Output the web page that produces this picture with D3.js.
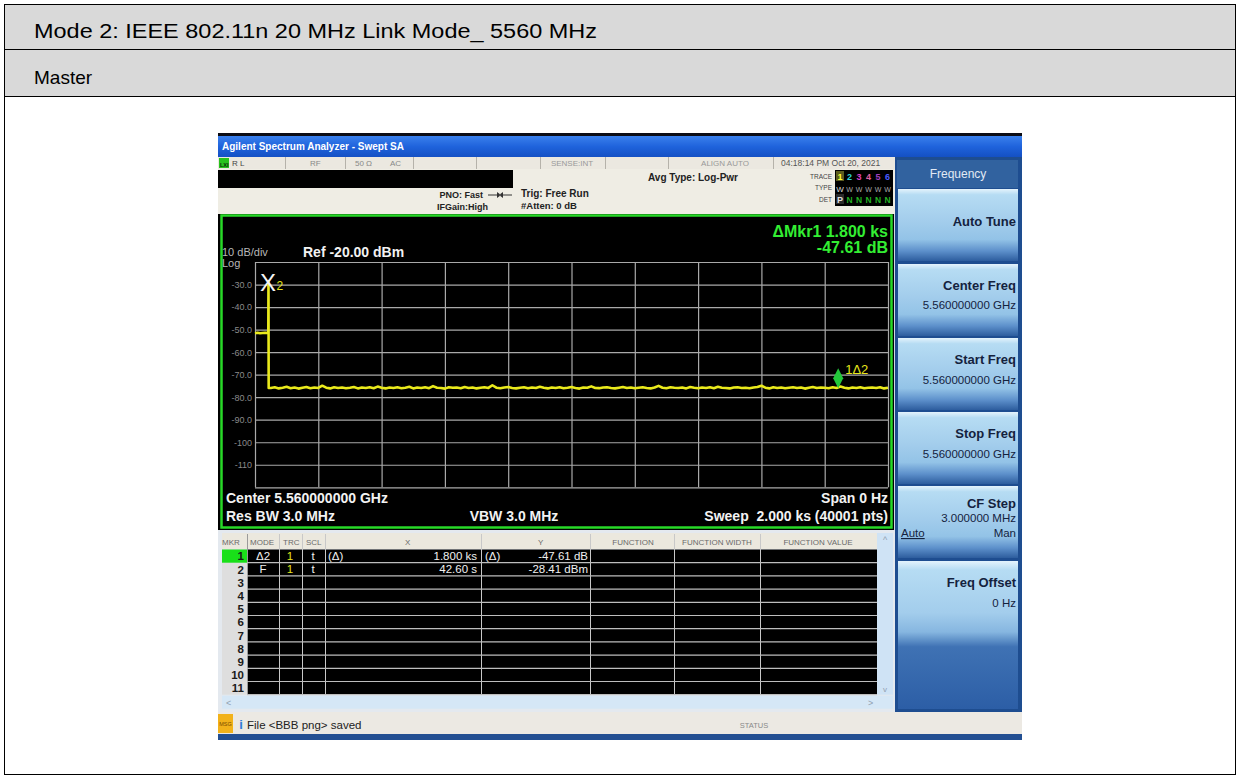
<!DOCTYPE html>
<html>
<head>
<meta charset="utf-8">
<script src="https://cdn.jsdelivr.net/npm/d3@7"></script>
<style>
  body { margin: 0; background: #fff; }
  svg { display: block; }
  text { font-family: "Liberation Sans", Arial, sans-serif; }
</style>
</head>
<body>
<svg id="page" width="1240" height="777"></svg>
<script>
// ---- sweep settings ----
const sweepSeconds = 2000;
const refLevel = -20;
const dbPerDiv = 10;
const yTickValues = [-30, -40, -50, -60, -70, -80, -90, -100, -110];
const yTickLabels = ["-30.0", "-40.0", "-50.0", "-60.0", "-70.0", "-80.0", "-90.0", "-100", "-110"];

// ---- trace 1: level before and through the burst (s, dBm) ----
const burstTime  = [0, 8, 16, 24, 32, 41.6, 42.0, 42.6, 43.2];
const burstLevel = [-51.6, -51.4, -51.6, -51.5, -51.4, -51.5, -51.5, -28.41, -75.9];

// ---- trace 1: noise floor after the burst, one reading every 12.5 s from 50 s ----
const floorStart = 50;
const floorStep = 12.5;
const floorLevel = [
  -75.9, -75.6, -76.1, -75.8, -75.4, -76.0, -75.7, -76.2, -75.8, -75.5,
  -76.0, -75.7, -75.9, -74.9, -75.8, -76.1, -75.6, -75.9, -75.7, -76.0,
  -75.8, -75.5, -76.1, -75.7, -75.9, -75.6, -76.0, -75.3, -75.8, -76.1,
  -75.7, -75.9, -75.6, -76.0, -75.8, -75.4, -76.1, -75.7, -75.9, -75.6,
  -76.0, -75.1, -75.8, -75.9, -76.2, -75.6, -75.8, -75.7, -76.0, -75.5,
  -75.9, -75.7, -76.1, -75.8, -75.6, -75.9, -74.7, -75.8, -76.0, -75.7,
  -75.5, -75.9, -76.1, -75.8, -75.6, -76.0, -75.7, -75.9, -75.4, -75.8,
  -76.1, -75.7, -75.9, -75.6, -76.0, -75.8, -75.5, -75.9, -76.2, -75.7,
  -75.8, -75.2, -75.9, -76.0, -75.7, -75.6, -75.9, -76.1, -75.8, -75.5,
  -75.9, -75.7, -76.0, -75.8, -75.6, -75.9, -76.1, -75.7, -75.0, -75.8,
  -76.0, -75.6, -75.8, -75.9, -75.7, -76.1, -75.5, -75.8, -76.0, -75.7,
  -75.9, -75.6, -76.0, -75.4, -75.8, -75.9, -76.1, -75.7, -75.6, -75.9,
  -75.8, -76.0, -75.7, -75.5, -74.9, -75.8, -76.1, -75.6, -75.9, -75.7,
  -76.0, -75.8, -75.6, -75.9, -75.7, -76.2, -75.8, -75.5, -75.9, -75.7,
  -75.8, -76.0, -75.6, -75.9, -75.3, -75.8, -76.1, -75.7, -75.9, -75.6,
  -76.0, -75.8, -75.7, -75.9, -75.6, -76.1, -75.8
];

// ---- markers ----
const refMarkerTime = 42.60;    // marker 2 (fixed)
const refMarkerLevel = -28.41;  // dBm
const deltaTime = 1800;         // marker 1 relative to 2, s
const deltaLevel = -47.61;      // dB

// ---- marker table ----
const mkrNumbers = ["1", "2", "3", "4", "5", "6", "7", "8", "9", "10", "11"];
const mkrMode  = ["Δ2", "F"];
const mkrTrace = ["1", "1"];
const mkrScale = ["t", "t"];
const mkrXRef  = ["(Δ)", ""];
const mkrX     = ["1.800 ks", "42.60 s"];
const mkrYRef  = ["(Δ)", ""];
const mkrY     = ["-47.61 dB", "-28.41 dBm"];
const tableHeads = ["MKR", "MODE", "TRC", "SCL", "X", "Y", "FUNCTION", "FUNCTION WIDTH", "FUNCTION VALUE"];

// ---- softkey menu ----
const menuTitle = "Frequency";
const keyLabels = ["Auto Tune", "Center Freq", "Start Freq", "Stop Freq", "CF Step", "Freq Offset"];
const keyValues = ["", "5.560000000 GHz", "5.560000000 GHz", "5.560000000 GHz", "3.000000 MHz", "0 Hz"];

const svg = d3.select("#page");
const FONT = '"Liberation Sans", Arial, sans-serif';

function txt(g, x, y, s, opt = {}) {
  const t = g.append("text").attr("x", x).attr("y", y).text(s)
    .attr("font-size", opt.size || 11)
    .attr("fill", opt.fill || "#000")
    .attr("font-weight", opt.bold ? "bold" : "normal")
    .attr("text-anchor", opt.anchor || "start");
  if (opt.underline) t.attr("text-decoration", "underline");
  return t;
}

// ================= page table =================
svg.append("rect").attr("x", 5).attr("y", 5).attr("width", 1230).attr("height", 44).attr("fill", "#d9d9d9");
svg.append("rect").attr("x", 5).attr("y", 50).attr("width", 1230).attr("height", 46).attr("fill", "#d9d9d9");
svg.append("rect").attr("x", 4.5).attr("y", 4.5).attr("width", 1231).attr("height", 770)
  .attr("fill", "none").attr("stroke", "#000").attr("stroke-width", 1);
svg.append("line").attr("x1", 4.5).attr("x2", 1235.5).attr("y1", 49.5).attr("y2", 49.5).attr("stroke", "#000");
svg.append("line").attr("x1", 4.5).attr("x2", 1235.5).attr("y1", 96.5).attr("y2", 96.5).attr("stroke", "#000");
txt(svg, 34, 38, "Mode 2: IEEE 802.11n 20 MHz Link Mode_ 5560 MHz", { size: 20 })
  .attr("textLength", 563).attr("lengthAdjust", "spacingAndGlyphs");
txt(svg, 34, 84, "Master", { size: 19 });

// ================= analyzer screen =================
const scr = svg.append("g");
const defs = svg.append("defs");

const tb = defs.append("linearGradient").attr("id", "titleGrad").attr("x1", 0).attr("y1", 0).attr("x2", 0).attr("y2", 1);
tb.append("stop").attr("offset", 0).attr("stop-color", "#3a80ec");
tb.append("stop").attr("offset", 0.5).attr("stop-color", "#1f63dc");
tb.append("stop").attr("offset", 1).attr("stop-color", "#1450c4");

const kg = defs.append("linearGradient").attr("id", "keyGrad").attr("x1", 0).attr("y1", 0).attr("x2", 0).attr("y2", 1);
[[0, "#e4f3fc"], [0.08, "#b6dcf3"], [0.45, "#a3cdec"], [0.7, "#93c3e7"], [0.86, "#5d90cb"], [1, "#2d5d9e"]]
  .forEach(([o, c]) => kg.append("stop").attr("offset", o).attr("stop-color", c));

const lk = defs.append("linearGradient").attr("id", "lastKeyGrad").attr("x1", 0).attr("y1", 0).attr("x2", 0).attr("y2", 1);
[[0, "#e4f3fc"], [0.06, "#b6dcf3"], [0.35, "#a3cdec"], [0.48, "#86b6e0"], [0.58, "#3f72b4"], [1, "#2c5ea6"]]
  .forEach(([o, c]) => lk.append("stop").attr("offset", o).attr("stop-color", c));

scr.append("rect").attr("x", 218).attr("y", 133).attr("width", 804).attr("height", 607).attr("fill", "#cfd8e2");
scr.append("rect").attr("x", 218).attr("y", 133).attr("width", 804).attr("height", 3).attr("fill", "#0c0c14");
scr.append("rect").attr("x", 218).attr("y", 136).attr("width", 804).attr("height", 21).attr("fill", "url(#titleGrad)");
txt(scr, 222, 150, "Agilent Spectrum Analyzer - Swept SA", { size: 10, bold: true, fill: "#ffffff" });

// status row
scr.append("rect").attr("x", 218).attr("y", 157).attr("width", 677).attr("height", 12).attr("fill", "#ebe8e0");
[285, 345, 413, 476, 540, 605, 668, 773].forEach(xv =>
  scr.append("line").attr("x1", xv + 0.5).attr("x2", xv + 0.5).attr("y1", 157).attr("y2", 169).attr("stroke", "#b5b2aa"));
scr.append("rect").attr("x", 219).attr("y", 158).attr("width", 10).attr("height", 10).attr("fill", "#27c21d");
txt(scr, 220, 166.5, "LXI", { size: 5.5, bold: true, fill: "#0a2a0a" });
txt(scr, 232, 166, "R L", { size: 8, fill: "#444" });
txt(scr, 310, 166, "RF", { size: 8, fill: "#888" });
txt(scr, 355, 166, "50 Ω", { size: 8, fill: "#888" });
txt(scr, 390, 166, "AC", { size: 8, fill: "#888" });
txt(scr, 572, 166, "SENSE:INT", { size: 8, fill: "#999", anchor: "middle" });
txt(scr, 725, 166, "ALIGN AUTO", { size: 8, fill: "#999", anchor: "middle" });
txt(scr, 781, 166, "04:18:14 PM Oct 20, 2021", { size: 8.5, fill: "#555" });

// settings block
scr.append("rect").attr("x", 218).attr("y", 169).attr("width", 677).attr("height", 45).attr("fill", "#efede4");
scr.append("rect").attr("x", 218).attr("y", 170).attr("width", 295).attr("height", 18).attr("fill", "#000");
txt(scr, 483, 198, "PNO: Fast", { size: 9, bold: true, fill: "#222", anchor: "end" });
txt(scr, 488, 210, "IFGain:High", { size: 9, bold: true, fill: "#222", anchor: "end" });
scr.append("line").attr("x1", 488).attr("x2", 512).attr("y1", 195).attr("y2", 195).attr("stroke", "#333");
scr.append("path").attr("d", "M497,192 L501,195 L497,198 Z M503,192 L499,195 L503,198 Z").attr("fill", "#333");
txt(scr, 521, 197, "Trig: Free Run", { size: 10, bold: true, fill: "#222" });
txt(scr, 521, 209, "#Atten: 0 dB", { size: 9.5, bold: true, fill: "#222" });
txt(scr, 648, 181, "Avg Type: Log-Pwr", { size: 10, bold: true, fill: "#222" });
txt(scr, 832, 179, "TRACE", { size: 6.5, fill: "#444", anchor: "end" });
txt(scr, 832, 190, "TYPE", { size: 6.5, fill: "#444", anchor: "end" });
txt(scr, 832, 202, "DET", { size: 6.5, fill: "#444", anchor: "end" });
scr.append("rect").attr("x", 835).attr("y", 170).attr("width", 58).attr("height", 36).attr("fill", "#000");
scr.append("rect").attr("x", 836).attr("y", 171).attr("width", 8).attr("height", 10).attr("fill", "#5b5b1e");
scr.append("rect").attr("x", 836).attr("y", 194).attr("width", 8).attr("height", 10).attr("fill", "#2a2a2a");
["#ffff30", "#2fd6d6", "#e040c8", "#e060a0", "#a040c0", "#4a5cff"].forEach((c, i) =>
  txt(scr, 840 + i * 9.5, 180, String(i + 1), { size: 9, bold: true, fill: c, anchor: "middle" }));
txt(scr, 840, 192, "W", { size: 8, fill: "#dddddd", anchor: "middle" });
for (let i = 1; i < 6; i++) txt(scr, 840 + i * 9.5, 192, "W", { size: 7, fill: "#aaaaaa", anchor: "middle" });
txt(scr, 840, 203, "P", { size: 9, bold: true, fill: "#e0e0e0", anchor: "middle" });
for (let i = 1; i < 6; i++) txt(scr, 840 + i * 9.5, 203, "N", { size: 8.5, bold: true, fill: "#23b023", anchor: "middle" });

// ================= plot area =================
scr.append("rect").attr("x", 218).attr("y", 214).attr("width", 676).attr("height", 316).attr("fill", "#000");
scr.append("rect").attr("x", 221.5).attr("y", 215.5).attr("width", 670).attr("height", 312)
  .attr("fill", "none").attr("stroke", "#27d927").attr("stroke-width", 2.5);

const x = d3.scaleLinear().domain([0, sweepSeconds]).range([255, 888]);
const y = d3.scaleLinear().domain([refLevel, refLevel - 10 * dbPerDiv]).range([262, 487.3]);

const gridColor = "#a9a9a9";
const hGrid = scr.append("g").attr("transform", "translate(255,0)")
  .call(d3.axisLeft(y).tickValues(d3.range(0, 11).map(i => refLevel - i * dbPerDiv))
    .tickSize(-(x.range()[1] - x.range()[0])).tickFormat(""));
hGrid.select(".domain").remove();
hGrid.selectAll("line").attr("stroke", gridColor).attr("stroke-width", 1.2);

const vGrid = scr.append("g").attr("transform", `translate(0,${y.range()[1]})`)
  .call(d3.axisBottom(x).tickValues(d3.range(0, 11).map(i => i * sweepSeconds / 10))
    .tickSize(-(y.range()[1] - y.range()[0])).tickFormat(""));
vGrid.select(".domain").remove();
vGrid.selectAll("line").attr("stroke", gridColor).attr("stroke-width", 1.2);

const yLab = scr.append("g").attr("transform", "translate(253,0)")
  .call(d3.axisLeft(y).tickValues(yTickValues).tickSize(0).tickPadding(1)
    .tickFormat((d, i) => yTickLabels[i]));
yLab.select(".domain").remove();
yLab.selectAll("text").attr("fill", "#8a8a8a").attr("font-size", 9).attr("font-family", FONT);

txt(scr, 222, 256, "10 dB/div", { size: 11, fill: "#b8b8b8" });
txt(scr, 222, 267, "Log", { size: 11, fill: "#b8b8b8" });
txt(scr, 303, 257, "Ref -20.00 dBm", { size: 14, bold: true, fill: "#f2f2f2" });

// trace
const tracePts = burstTime.map((t, i) => [t, burstLevel[i]])
  .concat(floorLevel.map((v, i) => [floorStart + i * floorStep, v]));
scr.append("path").datum(tracePts)
  .attr("d", d3.line().x(d => x(d[0])).y(d => y(d[1])))
  .attr("fill", "none").attr("stroke", "#eaea1c").attr("stroke-width", 2.6)
  .attr("stroke-linejoin", "round");

// marker 2 (reference)
const m2x = x(refMarkerTime), m2y = y(refMarkerLevel);
txt(scr, m2x - 0.5, m2y + 10, "X", { size: 24, fill: "#f4f4f4", anchor: "middle" });
txt(scr, m2x + 8, m2y + 9, "2", { size: 12, fill: "#e6e61c" });

// marker 1 (delta)
const m1x = x(refMarkerTime + deltaTime), m1y = y(refMarkerLevel + deltaLevel);
scr.append("path")
  .attr("d", `M${m1x},${m1y} L${m1x + 5},${m1y - 10} L${m1x},${m1y - 20} L${m1x - 5},${m1y - 10} Z`)
  .attr("fill", "#22c83a");
txt(scr, m1x + 7, m1y - 14, "1Δ2", { size: 13, fill: "#e6e61c" });

// active marker readout
txt(scr, 888, 237, `ΔMkr1 ${(deltaTime / 1000).toFixed(3)} ks`, { size: 16, bold: true, fill: "#33ee33", anchor: "end" });
txt(scr, 888, 253, `${deltaLevel.toFixed(2)} dB`, { size: 16, bold: true, fill: "#33ee33", anchor: "end" });

// bottom annotations
txt(scr, 226, 503, "Center 5.560000000 GHz", { size: 14, bold: true, fill: "#f2f2f2" });
txt(scr, 226, 521, "Res BW 3.0 MHz", { size: 14, bold: true, fill: "#f2f2f2" });
txt(scr, 514, 521, "VBW 3.0 MHz", { size: 14, bold: true, fill: "#f2f2f2", anchor: "middle" });
txt(scr, 888, 503, "Span 0 Hz", { size: 14, bold: true, fill: "#f2f2f2", anchor: "end" });
txt(scr, 888, 521, "Sweep  2.000 ks (40001 pts)", { size: 14, bold: true, fill: "#f2f2f2", anchor: "end" })
  .attr("xml:space", "preserve").style("white-space", "pre");

// ================= marker table =================
scr.append("rect").attr("x", 218).attr("y", 530).attr("width", 677).attr("height", 182).attr("fill", "#e4e9ef");
scr.append("rect").attr("x", 222).attr("y", 533).attr("width", 655).attr("height", 16).attr("fill", "#ebe8de");
const rowTop = 549.5, rowH = 13.2, nRows = mkrNumbers.length;
const tableBottom = rowTop + nRows * rowH;
scr.append("rect").attr("x", 222).attr("y", rowTop).attr("width", 25).attr("height", nRows * rowH).attr("fill", "#dedede");
scr.append("rect").attr("x", 247).attr("y", rowTop).attr("width", 630).attr("height", nRows * rowH).attr("fill", "#000");
scr.append("rect").attr("x", 222).attr("y", rowTop).attr("width", 25).attr("height", rowH).attr("fill", "#19e019");

const colLines = [247, 279, 302, 325, 481, 590, 674, 760];
colLines.forEach(cx =>
  scr.append("line").attr("x1", cx + 0.5).attr("x2", cx + 0.5).attr("y1", 534).attr("y2", tableBottom)
    .attr("stroke", cx === 247 ? "#9a9a9a" : "#c8c8c8").attr("stroke-width", 1));
for (let i = 1; i <= nRows; i++) {
  scr.append("line").attr("x1", 247).attr("x2", 877).attr("y1", rowTop + i * rowH).attr("y2", rowTop + i * rowH)
    .attr("stroke", "#bdbdbd").attr("stroke-width", 1.2);
}
const headX = [222, 250, 283, 306, 405, 538, 633, 717, 818];
tableHeads.forEach((h, i) =>
  txt(scr, headX[i], 545, h, { size: 8, fill: "#6a6a6a", anchor: i >= 6 ? "middle" : "start" }));

mkrNumbers.forEach((n, i) =>
  txt(scr, 244, rowTop + i * rowH + 10.8, n, { size: 11.5, bold: true, fill: "#1a1a1a", anchor: "end" }));
mkrMode.forEach((m, i) => {
  const by = rowTop + i * rowH + 10.5;
  txt(scr, 263, by, m, { size: 11.5, fill: "#f0f0f0", anchor: "middle" });
  txt(scr, 290, by, mkrTrace[i], { size: 11.5, fill: "#e6e61c", anchor: "middle" });
  txt(scr, 313, by, mkrScale[i], { size: 11.5, fill: "#f0f0f0", anchor: "middle" });
  txt(scr, 328, by, mkrXRef[i], { size: 11.5, fill: "#f0f0f0" });
  txt(scr, 477, by, mkrX[i], { size: 11.5, fill: "#f0f0f0", anchor: "end" });
  txt(scr, 485, by, mkrYRef[i], { size: 11.5, fill: "#f0f0f0" });
  txt(scr, 588, by, mkrY[i], { size: 11.5, fill: "#f0f0f0", anchor: "end" });
});

// scrollbars
scr.append("rect").attr("x", 877).attr("y", 533).attr("width", 16).attr("height", tableBottom - 533).attr("fill", "#cfe3f5");
txt(scr, 885, 543, "^", { size: 9, fill: "#8fa0b0", anchor: "middle" });
txt(scr, 885, 692, "v", { size: 8, fill: "#8fa0b0", anchor: "middle" });
scr.append("rect").attr("x", 222).attr("y", tableBottom + 1).attr("width", 671).attr("height", 13).attr("fill", "#d5e7f6");
txt(scr, 226, tableBottom + 11, "<", { size: 9, fill: "#8fa0b0" });
txt(scr, 868, tableBottom + 11, ">", { size: 9, fill: "#8fa0b0" });

// ================= softkey panel =================
scr.append("rect").attr("x", 895).attr("y", 157).attr("width", 127).attr("height", 555).attr("fill", "#1e4d90");
scr.append("rect").attr("x", 897).attr("y", 160).attr("width", 121).attr("height", 28).attr("fill", "#31629f");
txt(scr, 958, 178, menuTitle, { size: 12, fill: "#e2eaf4", anchor: "middle" });

const keyTop = [189, 264, 338, 412, 486, 561];
const keyH = 72;
keyLabels.forEach((lab, i) => {
  const last = i === keyLabels.length - 1;
  scr.append("rect").attr("x", 898).attr("y", keyTop[i]).attr("width", 120)
    .attr("height", last ? 709 - keyTop[i] : keyH)
    .attr("fill", last ? "url(#lastKeyGrad)" : "url(#keyGrad)");
});
const navy = "#14223e";
txt(scr, 1016, 226, keyLabels[0], { size: 13, bold: true, fill: navy, anchor: "end" });
txt(scr, 1016, 290, keyLabels[1], { size: 13, bold: true, fill: navy, anchor: "end" });
txt(scr, 1016, 309, keyValues[1], { size: 11.5, fill: navy, anchor: "end" });
txt(scr, 1016, 364, keyLabels[2], { size: 13, bold: true, fill: navy, anchor: "end" });
txt(scr, 1016, 384, keyValues[2], { size: 11.5, fill: navy, anchor: "end" });
txt(scr, 1016, 438, keyLabels[3], { size: 13, bold: true, fill: navy, anchor: "end" });
txt(scr, 1016, 458, keyValues[3], { size: 11.5, fill: navy, anchor: "end" });
txt(scr, 1016, 508, keyLabels[4], { size: 13, bold: true, fill: navy, anchor: "end" });
txt(scr, 1016, 522, keyValues[4], { size: 11.5, fill: navy, anchor: "end" });
txt(scr, 901, 537, "Auto", { size: 11.5, fill: navy, underline: true });
txt(scr, 1016, 537, "Man", { size: 11.5, fill: navy, anchor: "end" });
txt(scr, 1016, 587, keyLabels[5], { size: 13, bold: true, fill: navy, anchor: "end" });
txt(scr, 1016, 607, keyValues[5], { size: 11.5, fill: navy, anchor: "end" });

// ================= status bar =================
scr.append("rect").attr("x", 218).attr("y", 712).attr("width", 804).attr("height", 22).attr("fill", "#ece9e3");
scr.append("rect").attr("x", 218).attr("y", 714).attr("width", 15).attr("height", 19).attr("fill", "#f2b21a");
txt(scr, 225.5, 726, "MSG", { size: 5.5, fill: "#7a4a00", anchor: "middle" });
txt(scr, 241, 729, "i", { size: 13, bold: true, fill: "#2f7ad6", anchor: "middle" });
txt(scr, 247, 729, "File <BBB png> saved", { size: 11.5, fill: "#222" });
txt(scr, 754, 728, "STATUS", { size: 7.5, fill: "#8a8a8a", anchor: "middle" });
scr.append("rect").attr("x", 218).attr("y", 734).attr("width", 804).attr("height", 6).attr("fill", "#234f92");
</script>
</body>
</html>
